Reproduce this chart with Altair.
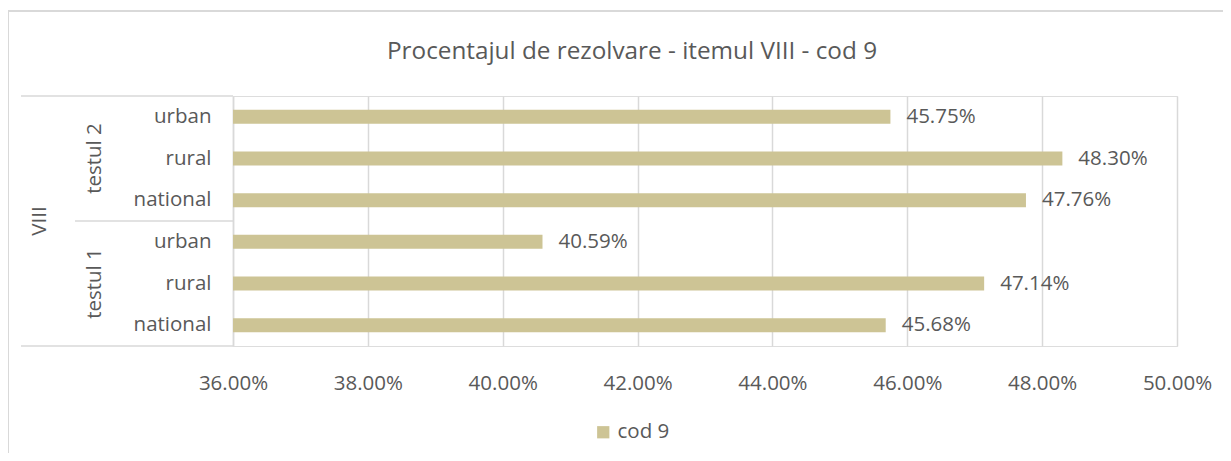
import altair as alt
import pandas as pd

# ---- data ----
item_label = ["VIII"]
test_groups = ["testul 2", "testul 1"]
tests = ["testul 2", "testul 2", "testul 2", "testul 1", "testul 1", "testul 1"]
areas = ["urban", "rural", "national", "urban", "rural", "national"]
values = [0.4575, 0.4830, 0.4776, 0.4059, 0.4714, 0.4568]
series_name = ["cod 9"]
x_ticks = [0.36, 0.38, 0.40, 0.42, 0.44, 0.46, 0.48, 0.50]
title_text = ["Procentajul de rezolvare - itemul VIII - cod 9"]

FONT = "Open Sans"
GRAY = "#595959"
LINE = "#d9d9d9"
BAR = "#CDC495"
FS = 20.5

keys = [t + "|" + a for t, a in zip(tests, areas)]
df = pd.DataFrame({"key": keys, "test": tests, "area": areas,
                   "value": values, "series": series_name[0]})
grp = pd.DataFrame({"test": test_groups, "key": [g + "|rural" for g in test_groups]})
one = pd.DataFrame({"item": item_label, "title": title_text})

W, H = 944, 250

yenc = alt.Y("key:N", sort=keys,
             scale=alt.Scale(domain=keys, paddingInner=0, paddingOuter=0),
             axis=alt.Axis(title=None, labelExpr="split(datum.label, '|')[1]",
                           labelFont=FONT, labelFontSize=FS, labelColor=GRAY,
                           labelPadding=22, ticks=False, domain=True,
                           domainColor=LINE, domainWidth=1.5, grid=False))
xenc = alt.X("value:Q",
             scale=alt.Scale(domain=[0.36, 0.50], nice=False, zero=False),
             axis=alt.Axis(title=None, values=x_ticks, format=".2%",
                           labelFont=FONT, labelFontSize=FS, labelColor=GRAY,
                           labelPadding=27, labelFlush=False, ticks=False, domain=False,
                           grid=True, gridColor=LINE, gridWidth=1.5))

bars = alt.Chart(df).mark_bar(size=14, clip=True).encode(
    x=xenc, y=yenc,
    color=alt.Color("series:N", scale=alt.Scale(domain=series_name, range=[BAR]),
                    legend=alt.Legend(title=None, orient="none", legendX=360, legendY=326,
                                      symbolType="square", symbolSize=150,
                                      symbolStrokeWidth=0, padding=0,
                                      labelFont=FONT, labelFontSize=FS,
                                      labelColor=GRAY, labelOffset=4)))

labels = alt.Chart(df).mark_text(align="left", baseline="middle", dx=16,
                                 font=FONT, fontSize=FS, color=GRAY).encode(
    x="value:Q", y=alt.Y("key:N", sort=keys), text=alt.Text("value:Q", format=".2%"))

grp_text = alt.Chart(grp).mark_text(angle=270, align="center", baseline="middle",
                                    font=FONT, fontSize=FS, color=GRAY).encode(
    x=alt.value(-138), y=alt.Y("key:N", sort=keys), text="test:N")

item_text = alt.Chart(one).mark_text(angle=270, align="center", baseline="middle",
                                     font=FONT, fontSize=FS, color=GRAY).encode(
    x=alt.value(-193), y=alt.value(H / 2), text="item:N")

title = alt.Chart(one).mark_text(align="center", baseline="middle",
                                 font=FONT, fontSize=24.3, color=GRAY).encode(
    x=alt.value(399), y=alt.value(-44), text="title:N")

line_top = alt.Chart(one).mark_rule(color=LINE, strokeWidth=1.5).encode(
    x=alt.value(-212), x2=alt.value(0), y=alt.value(0))
line_bot = alt.Chart(one).mark_rule(color=LINE, strokeWidth=1.5).encode(
    x=alt.value(-212), x2=alt.value(0), y=alt.value(H))
line_mid = alt.Chart(one).mark_rule(color=LINE, strokeWidth=1.5).encode(
    x=alt.value(-158), x2=alt.value(0), y=alt.value(H / 2))
border = alt.Chart(one).mark_rect(fill=None, stroke=LINE, strokeWidth=2).encode(
    x=alt.value(-225), y=alt.value(-85), x2=alt.value(1100), y2=alt.value(420))

chart = alt.layer(border, line_top, line_bot, line_mid, bars, labels,
                  grp_text, item_text, title).properties(
    width=W, height=H,
    padding={"left": 225, "top": 88, "right": 46, "bottom": 107},
    autosize=alt.AutoSizeParams(type="none"),
).configure_view(stroke=None).configure(background="white")

chart.save("out.html", embed_options={"renderer": "svg", "actions": False})
